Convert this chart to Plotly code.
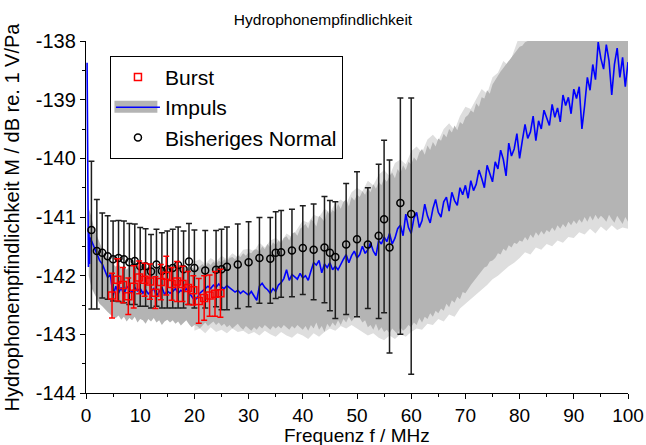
import numpy as np
import plotly.graph_objects as go

FONT = "Liberation Sans, Arial, sans-serif"

# ---------------- data ----------------
# Impuls (blue line): first spike samples, then 0.5 MHz grid from 1.0 to 100.0
imp_head_f = [0.2, 0.25, 0.35, 0.45, 0.55, 0.65, 0.75, 0.9]
imp_head_v = [-138.37, -139.65, -140.4, -141.85, -141.27, -141.8, -141.35, -141.42]

imp_f0, imp_df = 1.0, 0.5
imp_v = [
    -141.40, -141.52, -141.62, -141.74, -141.80, -141.92, -142.03, -141.98, -142.34, -142.18,
    -142.30, -142.20, -142.33, -142.18, -142.24, -142.28, -142.20, -142.26, -142.22, -142.30,
    -142.24, -142.31, -142.27, -142.22, -142.35, -142.28, -142.20, -142.32, -142.26, -142.30,
    -142.27, -142.22, -142.30, -142.25, -142.28, -142.22, -142.29, -142.36, -142.42, -142.38,
    -142.30, -142.26, -142.22, -142.18, -142.22, -142.16, -142.20, -142.14, -142.19, -142.22,
    -142.17, -142.21, -142.24, -142.28, -142.25, -142.30, -142.26, -142.29, -142.33, -142.27,
    -142.35, -142.42, -142.18, -142.13, -142.20, -142.24, -142.30, -142.22, -142.27, -142.16,
    -142.12, -142.05, -141.90, -142.08, -141.98, -142.02, -142.06, -141.96, -142.04, -142.00,
    -142.08, -141.92, -141.78, -141.82, -141.74, -141.95, -141.80, -141.86, -141.78, -141.90,
    -141.84, -141.90, -141.80, -141.72, -141.64, -141.78, -141.66, -141.58, -141.70, -141.64,
    -141.50, -141.62, -141.56, -141.44, -141.58, -141.66, -141.40, -141.46, -141.34, -141.42,
    -141.28, -141.46, -141.36, -141.20, -141.14, -141.32, -140.95, -141.18, -141.28, -141.02,
    -140.92, -141.18, -141.06, -140.78, -140.98, -141.10, -140.86, -140.70, -140.92, -141.00,
    -140.74, -140.66, -140.90, -140.58, -140.72, -140.80, -140.50, -140.62, -140.46, -140.68,
    -140.38, -140.55, -140.44, -140.20, -140.34, -140.50, -140.12, -140.26, -140.40, -140.06,
    -140.18, -139.86, -140.02, -140.30, -139.74, -139.96, -139.84, -139.58, -140.00, -139.70,
    -139.42, -139.66, -139.55, -139.28, -139.70, -139.36, -139.50, -139.18, -139.32, -139.44,
    -139.08, -139.30, -139.14, -139.38, -138.92, -139.10, -138.96, -139.24, -138.82, -138.98,
    -138.78, -139.50, -139.10, -138.62, -138.84, -138.40, -138.66, -138.02, -138.30, -138.48,
    -138.06, -138.34, -138.92, -138.40, -138.12, -138.62, -138.28, -138.78, -138.36,
]

# Impuls uncertainty band (dense core): 0.5 MHz grid from 0.5 to 100.0
band_f0, band_df = 0.5, 0.5
band_upper = [
    -140.85, -141.00, -141.20, -141.32, -141.45, -141.55, -141.62, -141.70, -141.78, -141.80,
    -141.85, -141.80, -141.88, -141.82, -141.90, -141.84, -141.80, -141.88, -141.83, -141.86,
    -141.82, -141.88, -141.85, -141.80, -141.90, -141.84, -141.86, -141.82, -141.88, -141.84,
    -141.86, -141.82, -141.88, -141.84, -141.80, -141.87, -141.83, -141.88, -141.85, -141.90,
    -141.88, -141.84, -141.80, -141.85, -141.78, -141.82, -141.76, -141.80, -141.74, -141.78,
    -141.72, -141.76, -141.70, -141.68, -141.72, -141.65, -141.68, -141.62, -141.66, -141.60,
    -141.62, -141.56, -141.55, -141.60, -141.50, -141.55, -141.46, -141.52, -141.43, -141.48,
    -141.40, -141.45, -141.36, -141.33, -141.40, -141.28, -141.26, -141.32, -141.20, -141.16,
    -141.12, -141.20, -141.04, -141.08, -141.16, -140.98, -141.02, -141.08, -140.90, -140.96,
    -140.88, -140.92, -140.78, -140.86, -140.74, -140.70, -140.82, -140.66, -140.72, -140.62,
    -140.66, -140.56, -140.62, -140.50, -140.58, -140.44, -140.52, -140.40, -140.46, -140.34,
    -140.40, -140.30, -140.24, -140.34, -140.18, -140.26, -140.12, -140.20, -140.06, -140.10,
    -139.98, -140.04, -139.90, -139.84, -139.94, -139.78, -139.86, -139.72, -139.80, -139.66,
    -139.70, -139.58, -139.64, -139.50, -139.56, -139.44, -139.52, -139.38, -139.42, -139.30,
    -139.26, -139.18, -139.22, -139.06, -139.12, -138.96, -138.98, -138.84, -138.90, -138.74,
    -138.66, -138.60, -138.52, -138.46, -138.40, -138.32, -138.28, -138.20, -138.16, -138.10,
    -138.08, -138.02, -138.00, -137.92, -137.92, -137.84, -137.85, -137.78, -137.80, -137.74,
    -137.75, -137.70, -137.70, -137.64, -137.66, -137.60, -137.62, -137.56, -137.58, -137.52,
    -137.54, -137.50, -137.50, -137.44, -137.46, -137.40, -137.42, -137.36, -137.38, -137.32,
    -137.34, -137.30, -137.30, -137.25, -137.26, -137.20, -137.22, -137.18, -137.18, -137.15,
]
band_lower = [
    -142.00, -142.20, -142.30, -142.40, -142.48, -142.52, -142.58, -142.62, -142.66, -142.70,
    -142.72, -142.68, -142.75, -142.70, -142.78, -142.72, -142.76, -142.70, -142.80, -142.74,
    -142.76, -142.82, -142.74, -142.78, -142.72, -142.80, -142.76, -142.84, -142.78, -142.75,
    -142.80, -142.76, -142.82, -142.78, -142.85, -142.80, -142.76, -142.83, -142.88, -142.84,
    -142.86, -142.90, -142.84, -142.80, -142.86, -142.82, -142.78, -142.84, -142.80, -142.86,
    -142.82, -142.88, -142.84, -142.90, -142.86, -142.82, -142.88, -142.92, -142.86, -142.90,
    -142.94, -142.88, -142.92, -142.86, -142.90, -142.84, -142.88, -142.92, -142.86, -142.90,
    -142.86, -142.90, -142.84, -142.88, -142.92, -142.86, -142.90, -142.84, -142.88, -142.92,
    -142.86, -142.94, -142.84, -142.90, -142.80, -142.92, -142.86, -142.96, -142.82, -142.88,
    -142.80, -142.86, -142.76, -142.84, -142.74, -142.80, -142.70, -142.78, -142.72, -142.68,
    -142.72, -142.80, -142.76, -142.88, -142.84, -142.92, -142.82, -142.94, -142.88, -142.96,
    -142.92, -142.98, -142.90, -142.96, -143.00, -142.88, -142.94, -142.90, -142.84, -142.88,
    -142.80, -142.84, -142.72, -142.80, -142.70, -142.74, -142.64, -142.70, -142.60, -142.64,
    -142.56, -142.60, -142.48, -142.54, -142.42, -142.46, -142.36, -142.40, -142.28, -142.30,
    -142.22, -142.16, -142.10, -142.04, -141.98, -141.94, -141.86, -141.84, -141.76, -141.74,
    -141.70, -141.62, -141.64, -141.54, -141.58, -141.48, -141.52, -141.44, -141.46, -141.40,
    -141.42, -141.34, -141.40, -141.30, -141.36, -141.26, -141.32, -141.24, -141.30, -141.22,
    -141.26, -141.18, -141.24, -141.14, -141.20, -141.12, -141.18, -141.08, -141.14, -141.06,
    -141.12, -141.04, -141.10, -141.00, -141.08, -140.98, -141.06, -140.96, -141.04, -140.98,
    -141.02, -141.08, -140.96, -141.04, -141.10, -140.98, -141.06, -141.12, -141.00, -141.08,
]

# Impuls band, sparse outer spikes (light grey): 1 MHz grid from 20 to 100
spike_f0, spike_df = 20.0, 1.0
spike_upper = [
    -141.76, -141.72, -141.80, -141.70, -141.76, -141.66, -141.72, -141.62, -141.68, -141.56,
    -141.54, -141.58, -141.44, -141.52, -141.40, -141.36, -141.42, -141.28, -141.34, -141.20,
    -141.06, -141.10, -140.96, -141.00, -140.86, -140.92, -140.76, -140.70, -140.78, -140.58,
    -140.50, -140.56, -140.38, -140.46, -140.28, -140.20, -140.30, -140.08, -140.02, -140.10,
    -139.88, -139.80, -139.90, -139.68, -139.60, -139.70, -139.50, -139.40, -139.52, -139.28,
    -139.12, -139.16, -138.98, -138.82, -138.90, -138.62, -138.54, -138.34, -138.42, -138.18,
    -137.90, -137.85, -137.80, -137.80, -137.75, -137.70, -137.70, -137.65, -137.60, -137.60,
    -137.55, -137.50, -137.50, -137.45, -137.40, -137.40, -137.35, -137.30, -137.30, -137.25,
    -137.20,
]
spike_lower = [
    -142.94, -142.90, -142.98, -142.88, -142.96, -142.92, -142.98, -142.90, -142.96, -142.94,
    -143.00, -142.96, -143.02, -142.94, -143.00, -143.04, -142.96, -143.02, -143.06, -142.98,
    -143.02, -143.08, -142.98, -143.04, -142.96, -142.90, -142.94, -142.86, -142.90, -142.84,
    -142.90, -142.96, -143.02, -142.98, -143.06, -143.10, -143.02, -143.08, -143.00, -143.04,
    -142.96, -142.90, -142.92, -142.82, -142.84, -142.74, -142.78, -142.66, -142.70, -142.56,
    -142.48, -142.40, -142.32, -142.24, -142.16, -142.06, -142.00, -141.92, -141.84, -141.78,
    -141.70, -141.60, -141.64, -141.52, -141.56, -141.46, -141.50, -141.40, -141.44, -141.34,
    -141.36, -141.26, -141.30, -141.20, -141.28, -141.16, -141.24, -141.14, -141.22, -141.18,
    -141.20,
]

# Burst (red squares with error bars)
burst_f = [4.8, 5.8, 6.8, 7.8, 8.8, 9.8, 10.8, 11.8, 12.8, 13.8, 14.8,
           15.8, 16.8, 17.8, 18.8, 19.8, 20.8, 21.8, 22.8, 23.8, 24.8]
burst_v = [-142.34, -142.07, -142.16, -142.35, -142.19, -142.03, -142.07, -142.10, -142.29, -142.11, -142.00,
           -142.14, -142.10, -142.14, -142.21, -142.25, -142.43, -142.38, -142.34, -142.31, -142.30]
burst_err = [0.38, 0.36, 0.30, 0.31, 0.36, 0.28, 0.28, 0.30, 0.27, 0.30, 0.33,
             0.28, 0.34, 0.30, 0.28, 0.25, 0.38, 0.38, 0.35, 0.38, 0.41]

# Bisheriges Normal (black circles with error bars)
norm_f = [1, 2, 3, 4, 5, 6, 7, 8, 9, 10, 11, 12, 13, 14, 15, 16, 17, 18, 19, 20,
          22, 24, 25, 26, 28, 30, 32, 34, 35, 36, 38, 40, 42, 44, 45, 46, 48, 50,
          52, 54, 55, 56, 58, 60]
norm_v = [-141.22, -141.58, -141.61, -141.67, -141.72, -141.70, -141.72, -141.77, -141.75, -141.84,
          -141.84, -141.93, -141.81, -141.92, -141.89, -141.87, -141.82, -141.89, -141.76, -141.87,
          -141.91, -141.90, -141.89, -141.85, -141.81, -141.77, -141.70, -141.71, -141.61, -141.60,
          -141.57, -141.53, -141.56, -141.52, -141.61, -141.68, -141.47, -141.38, -141.47, -141.32,
          -141.04, -141.52, -140.76, -140.95]
norm_top = [-140.05, -140.70, -140.93, -140.98, -141.07, -141.06, -141.07, -141.11, -141.12, -141.18,
            -141.20, -141.30, -141.21, -141.27, -141.24, -141.21, -141.17, -141.24, -141.11, -141.22,
            -141.23, -141.23, -141.21, -141.17, -141.12, -141.08, -141.01, -141.01, -140.91, -140.89,
            -140.87, -140.81, -140.78, -140.65, -140.72, -140.74, -140.43, -140.23, -140.50, -140.10,
            -139.69, -140.03, -138.97, -138.97]
norm_bot = [-142.57, -142.57, -142.38, -142.40, -142.43, -142.44, -142.46, -142.49, -142.49, -142.52,
            -142.52, -142.55, -142.52, -142.55, -142.55, -142.55, -142.55, -142.55, -142.49, -142.55,
            -142.55, -142.53, -142.58, -142.58, -142.56, -142.53, -142.47, -142.47, -142.39, -142.37,
            -142.36, -142.32, -142.41, -142.46, -142.60, -142.73, -142.66, -142.70, -142.56, -142.73,
            -142.63, -143.32, -143.00, -143.68]

x_ticks = [0, 10, 20, 30, 40, 50, 60, 70, 80, 90, 100]
x_ticktext = ["0", "10", "20", "30", "40", "50", "60", "70", "80", "90", "100"]
y_ticks = [-144, -143, -142, -141, -140, -139, -138]
y_ticktext = ["-144", "-143", "-142", "-141", "-140", "-139", "-138"]

# ---------------- derived ----------------
imp_f = [imp_f0 + i * imp_df for i in range(len(imp_v))]
band_f = [band_f0 + i * band_df for i in range(len(band_upper))]
spike_f = [spike_f0 + i * spike_df for i in range(len(spike_upper))]
norm_plus = [t - v for t, v in zip(norm_top, norm_v)]
norm_minus = [v - b for v, b in zip(norm_v, norm_bot)]

GREY = "rgb(180,180,180)"
LIGHT = "rgb(222,222,222)"

fig = go.Figure()
fig.add_trace(go.Scatter(x=spike_f, y=spike_lower, mode="lines", line=dict(width=0, color=LIGHT),
                         showlegend=False, hoverinfo="skip"))
fig.add_trace(go.Scatter(x=spike_f, y=spike_upper, mode="lines", line=dict(width=0, color=LIGHT),
                         fill="tonexty", fillcolor=LIGHT, showlegend=False, hoverinfo="skip"))
fig.add_trace(go.Scatter(x=band_f, y=band_lower, mode="lines", line=dict(width=0, color=GREY),
                         showlegend=False, hoverinfo="skip"))
fig.add_trace(go.Scatter(x=band_f, y=band_upper, mode="lines", line=dict(width=0, color=GREY),
                         fill="tonexty", fillcolor=GREY, showlegend=False, hoverinfo="skip"))
fig.add_trace(go.Scatter(x=imp_head_f + imp_f, y=imp_head_v + imp_v, mode="lines", name="Impuls",
                         line=dict(color="rgb(0,0,255)", width=1.6), legendrank=2))
fig.add_trace(go.Scatter(x=norm_f, y=norm_v, mode="markers", name="Bisheriges Normal",
                         marker=dict(symbol="circle-open", size=7, color="black", line=dict(width=1.5)),
                         error_y=dict(type="data", symmetric=False, array=norm_plus, arrayminus=norm_minus,
                                      color="rgb(30,30,30)", thickness=1.5, width=3),
                         legendrank=3))
fig.add_trace(go.Scatter(x=burst_f, y=burst_v, mode="markers", name="Burst",
                         marker=dict(symbol="square-open", size=7, color="red", line=dict(width=1.5)),
                         error_y=dict(type="data", array=burst_err, color="red", thickness=1.5, width=3),
                         legendrank=1))

L, R, T, B = 85.5, 628.5, 40.7, 392.7
W, H = 646, 445


def px2paper_x(px):
    return (px - L) / (R - L)


def px2paper_y(py):
    return (B - py) / (B - T)


fig.update_layout(
    width=W, height=H,
    margin=dict(l=L, r=W - R, t=T, b=H - B, pad=0, autoexpand=False),
    paper_bgcolor="white", plot_bgcolor="white",
    font=dict(family=FONT, color="black", size=20),
    title=dict(text="Hydrophonempfindlichkeit", font=dict(size=15.5, family=FONT, color="black"),
               xref="container", x=0.5, xanchor="center", yref="container", y=1 - 20 / H, yanchor="middle"),
    showlegend=True,
    legend=dict(x=px2paper_x(109.5), y=px2paper_y(55.5), xanchor="left", yanchor="top",
                bgcolor="rgba(0,0,0,0)", bordercolor="black", borderwidth=1,
                font=dict(size=21, family=FONT), itemwidth=44, traceorder="normal"),
    xaxis=dict(range=[0, 100], tickvals=x_ticks, ticktext=x_ticktext, ticks="outside", ticklen=5,
               tickwidth=1, tickcolor="black", automargin=False,
               showline=True, linecolor="black", linewidth=1.3, showgrid=False, zeroline=False,
               tickfont=dict(size=19), minor=dict(dtick=5, ticks="outside", ticklen=3, tickcolor="black")),
    yaxis=dict(range=[-144, -138], tickvals=y_ticks, ticktext=y_ticktext, ticks="outside", ticklen=5,
               tickwidth=1, tickcolor="black", automargin=False,
               showline=True, linecolor="black", linewidth=1.3, showgrid=False, zeroline=False,
               tickfont=dict(size=20), minor=dict(dtick=0.5, ticks="outside", ticklen=3, tickcolor="black")),
    annotations=[
        dict(text="Frequenz f / MHz", xref="paper", yref="paper", x=0.5, y=0, yshift=-(435 - B),
             xanchor="center", yanchor="middle", showarrow=False, font=dict(size=19)),
        dict(text="Hydrophonempfindlichkeit M / dB re. 1 V/Pa", xref="paper", yref="paper",
             x=0, xshift=11 - L, y=0.5, xanchor="center", yanchor="middle", textangle=-90,
             showarrow=False, font=dict(size=20)),
    ],
    shapes=[
        dict(type="rect", xref="paper", yref="paper", x0=px2paper_x(114), x1=px2paper_x(157),
             y0=px2paper_y(112.5), y1=px2paper_y(100.5), fillcolor=GREY, line=dict(width=0), layer="above"),
    ],
)

fig.write_html("out.html", config={"displayModeBar": False},
               post_script="document.body.style.margin='0';document.body.style.padding='0';")
